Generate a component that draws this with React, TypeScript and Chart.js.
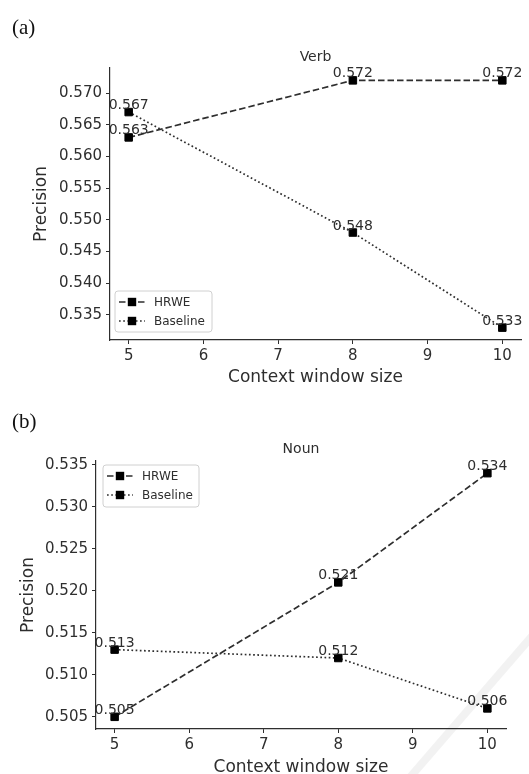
import React, { useEffect, useRef } from 'react';
import { Chart, registerables } from 'chart.js';

Chart.register(...registerables);

// ---- data ----
const windowSizes = [5, 8, 10];
const verbHRWE = [0.563, 0.572, 0.572];
const verbBaseline = [0.567, 0.548, 0.533];
const nounHRWE = [0.505, 0.521, 0.534];
const nounBaseline = [0.513, 0.512, 0.506];
const xTickValues = [5, 6, 7, 8, 9, 10];
const verbYTicks = [0.535, 0.54, 0.545, 0.55, 0.555, 0.56, 0.565, 0.57];
const nounYTicks = [0.505, 0.51, 0.515, 0.52, 0.525, 0.53, 0.535];
const seriesNames = ['HRWE', 'Baseline'];
const panelTitles = ['Verb', 'Noun'];
const panelLetters = ['(a)', '(b)'];
const xLabel = 'Context window size';
const yLabel = 'Precision';

const FONT = "'DejaVu Sans', sans-serif";
const INK = '#2e2e2e';

type LegendSpec = { anchor: 'bottom' | 'top'; dx: number; dy: number; w: number; h: number };
type PanelSpec = {
  title: string;
  hrwe: number[];
  base: number[];
  yTicks: number[];
  height: number;
  padTop: number;
  padRight: number;
  yWidth: number;
  xHeight: number;
  yTitlePad: number;
  titleOffset: number;
  legend: LegendSpec;
  watermark: boolean;
};

function margins(vals: number[]) {
  const lo = Math.min(...vals);
  const hi = Math.max(...vals);
  const m = (hi - lo) * 0.05;
  return [lo - m, hi + m];
}

function toPoints(ys: number[]) {
  return windowSizes.map((x, i) => ({ x, y: ys[i] }));
}

const annotatePlugin = {
  id: 'annotateValues',
  afterDatasetsDraw(chart: any) {
    const ctx = chart.ctx;
    ctx.save();
    ctx.font = `14px ${FONT}`;
    ctx.fillStyle = INK;
    ctx.textAlign = 'center';
    ctx.textBaseline = 'alphabetic';
    chart.data.datasets.forEach((ds: any, di: number) => {
      const meta = chart.getDatasetMeta(di);
      meta.data.forEach((pt: any, i: number) => {
        ctx.fillText(ds.data[i].y.toFixed(3), pt.x, pt.y - 3);
      });
    });
    ctx.restore();
  },
};

const panelDecorPlugin = {
  id: 'panelDecor',
  beforeDraw(chart: any) {
    const o = chart.options.plugins.panelDecor;
    if (!o.watermark) return;
    const ctx = chart.ctx;
    ctx.save();
    ctx.strokeStyle = 'rgba(0,0,0,0.05)';
    ctx.lineWidth = 8;
    ctx.beginPath();
    ctx.moveTo(405, 388);
    ctx.lineTo(540, 232);
    ctx.stroke();
    ctx.restore();
  },
  afterDraw(chart: any) {
    const o = chart.options.plugins.panelDecor;
    const ctx = chart.ctx;
    const area = chart.chartArea;
    ctx.save();
    // title
    ctx.font = `14px ${FONT}`;
    ctx.fillStyle = INK;
    ctx.textAlign = 'center';
    ctx.textBaseline = 'alphabetic';
    ctx.fillText(o.title, (area.left + area.right) / 2, area.top - o.titleOffset);

    // legend
    const L: LegendSpec = o.legend;
    const bx = area.left + L.dx;
    const by = L.anchor === 'bottom' ? area.bottom - L.dy - L.h : area.top + L.dy;
    ctx.beginPath();
    const r = 3;
    ctx.moveTo(bx + r, by);
    ctx.lineTo(bx + L.w - r, by);
    ctx.arcTo(bx + L.w, by, bx + L.w, by + r, r);
    ctx.lineTo(bx + L.w, by + L.h - r);
    ctx.arcTo(bx + L.w, by + L.h, bx + L.w - r, by + L.h, r);
    ctx.lineTo(bx + r, by + L.h);
    ctx.arcTo(bx, by + L.h, bx, by + L.h - r, r);
    ctx.lineTo(bx, by + r);
    ctx.arcTo(bx, by, bx + r, by, r);
    ctx.closePath();
    ctx.fillStyle = 'rgba(255,255,255,0.85)';
    ctx.fill();
    ctx.strokeStyle = '#d0d0d0';
    ctx.lineWidth = 1;
    ctx.stroke();

    chart.data.datasets.forEach((ds: any, i: number) => {
      const cy = by + 11 + i * 19;
      ctx.save();
      ctx.strokeStyle = ds.borderColor;
      ctx.lineWidth = ds.borderWidth;
      ctx.setLineDash(ds.borderDash);
      ctx.beginPath();
      ctx.moveTo(bx + 4, cy);
      ctx.lineTo(bx + 30, cy);
      ctx.stroke();
      ctx.restore();
      ctx.fillStyle = '#000';
      ctx.fillRect(bx + 17 - 4.2, cy - 4.2, 8.4, 8.4);
      ctx.fillStyle = INK;
      ctx.font = `12px ${FONT}`;
      ctx.textAlign = 'left';
      ctx.textBaseline = 'middle';
      ctx.fillText(ds.label, bx + 39, cy + 0.5);
    });
    ctx.restore();
  },
};

function Panel({ spec }: { spec: PanelSpec }) {
  const ref = useRef<HTMLCanvasElement | null>(null);
  useEffect(() => {
    if (!ref.current) return;
    const [yMin, yMax] = margins([...spec.hrwe, ...spec.base]);
    const [xMin, xMax] = margins(windowSizes);
    const common = {
      showLine: true,
      fill: false,
      tension: 0,
      borderColor: INK,
      borderWidth: 1.7,
      pointStyle: 'rect',
      pointRadius: 5.3,
      pointBackgroundColor: '#000',
      pointBorderColor: '#000',
      pointBorderWidth: 1,
    };
    const chart = new Chart(ref.current, {
      type: 'line',
      data: {
        datasets: [
          { ...common, label: seriesNames[0], data: toPoints(spec.hrwe), borderDash: [6.5, 3] },
          { ...common, label: seriesNames[1], data: toPoints(spec.base), borderDash: [1.7, 2.5] },
        ],
      },
      options: {
        animation: false,
        responsive: false,
        devicePixelRatio: 1,
        layout: { padding: { left: 0, right: spec.padRight, top: spec.padTop, bottom: 0 } },
        plugins: {
          legend: { display: false },
          title: { display: false },
          tooltip: { enabled: false },
          panelDecor: {
            title: spec.title,
            titleOffset: spec.titleOffset,
            legend: spec.legend,
            watermark: spec.watermark,
          },
        } as any,
        scales: {
          x: {
            type: 'linear',
            min: xMin,
            max: xMax,
            afterBuildTicks: (s: any) => {
              s.ticks = xTickValues.map((v) => ({ value: v }));
            },
            afterFit: (s: any) => {
              s.height = spec.xHeight;
              s.paddingLeft = 0;
              s.paddingRight = 0;
            },
            grid: { drawOnChartArea: false, drawTicks: true, tickLength: 4, color: INK },
            border: { display: true, color: INK, width: 1.2 },
            ticks: {
              autoSkip: false,
              maxRotation: 0,
              padding: 3,
              color: INK,
              font: { family: FONT, size: 15 },
              callback: (v: any) => String(v),
            },
            title: {
              display: true,
              text: xLabel,
              color: INK,
              font: { family: FONT, size: 17 },
              padding: { top: 0, bottom: 7 },
            },
          },
          y: {
            type: 'linear',
            min: yMin,
            max: yMax,
            afterBuildTicks: (s: any) => {
              s.ticks = spec.yTicks.map((v) => ({ value: v }));
            },
            afterFit: (s: any) => {
              s.width = spec.yWidth;
              s.paddingTop = 0;
              s.paddingBottom = 0;
            },
            grid: { drawOnChartArea: false, drawTicks: true, tickLength: 4, color: INK },
            border: { display: true, color: INK, width: 1.2 },
            ticks: {
              autoSkip: false,
              padding: 4,
              color: INK,
              font: { family: FONT, size: 15 },
              callback: (v: any) => Number(v).toFixed(3),
            },
            title: {
              display: true,
              text: yLabel,
              color: INK,
              font: { family: FONT, size: 17 },
              padding: { top: spec.yTitlePad, bottom: 0 },
            },
          },
        },
      },
      plugins: [annotatePlugin, panelDecorPlugin],
    } as any);
    return () => chart.destroy();
  }, [spec]);
  return <canvas ref={ref} width={529} height={spec.height} style={{ display: 'block' }} />;
}

const panelA: PanelSpec = {
  title: panelTitles[0],
  hrwe: verbHRWE,
  base: verbBaseline,
  yTicks: verbYTicks,
  height: 395,
  padTop: 68,
  padRight: 8,
  yWidth: 110,
  xHeight: 55,
  yTitlePad: 31.5,
  titleOffset: 6.6,
  legend: { anchor: 'bottom', dx: 5, dy: 8, w: 97, h: 41 },
  watermark: false,
};

const panelB: PanelSpec = {
  title: panelTitles[1],
  hrwe: nounHRWE,
  base: nounBaseline,
  yTicks: nounYTicks,
  height: 390,
  padTop: 66,
  padRight: 23,
  yWidth: 96,
  xHeight: 56,
  yTitlePad: 18,
  titleOffset: 8.5,
  legend: { anchor: 'top', dx: 7, dy: 4, w: 96, h: 42 },
  watermark: true,
};

const letterStyle: React.CSSProperties = {
  position: 'absolute',
  left: 12,
  fontFamily: "'Liberation Serif', 'Times New Roman', serif",
  fontSize: 21,
  lineHeight: '21px',
  color: '#111',
  margin: 0,
};

export default function App() {
  return (
    <div
      style={{
        position: 'absolute',
        left: 0,
        top: 0,
        width: 529,
        height: 774,
        overflow: 'hidden',
        background: '#fff',
      }}
    >
      <div style={{ position: 'absolute', left: 0, top: 0 }}>
        <Panel spec={panelA} />
      </div>
      <div style={{ position: 'absolute', left: 0, top: 395 }}>
        <Panel spec={panelB} />
      </div>
      <div style={{ ...letterStyle, top: 16.5 }}>{panelLetters[0]}</div>
      <div style={{ ...letterStyle, top: 410.5 }}>{panelLetters[1]}</div>
    </div>
  );
}
